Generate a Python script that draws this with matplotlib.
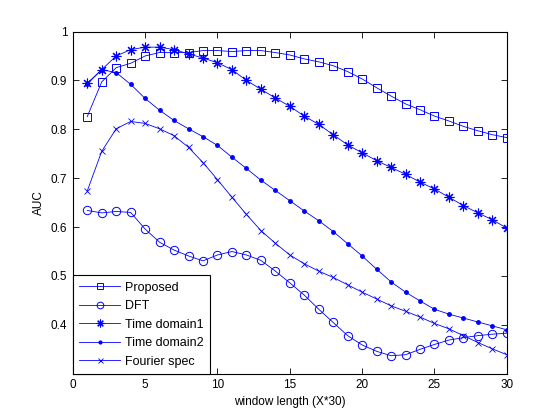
import matplotlib.pyplot as plt

x = list(range(1, 31))

proposed = [0.826, 0.897, 0.926, 0.935, 0.950, 0.957, 0.957, 0.957, 0.961, 0.961,
            0.959, 0.961, 0.961, 0.957, 0.952, 0.944, 0.938, 0.930, 0.918, 0.903,
            0.885, 0.868, 0.852, 0.840, 0.827, 0.817, 0.806, 0.797, 0.789, 0.783]
dft = [0.634, 0.629, 0.632, 0.630, 0.596, 0.569, 0.553, 0.541, 0.531, 0.543,
       0.550, 0.543, 0.532, 0.510, 0.486, 0.461, 0.432, 0.405, 0.378, 0.359,
       0.346, 0.337, 0.339, 0.350, 0.360, 0.369, 0.374, 0.378, 0.381, 0.383]
time1 = [0.894, 0.922, 0.950, 0.963, 0.968, 0.968, 0.963, 0.954, 0.946, 0.936,
         0.922, 0.900, 0.882, 0.864, 0.847, 0.827, 0.810, 0.789, 0.768, 0.752,
         0.736, 0.722, 0.708, 0.692, 0.678, 0.661, 0.644, 0.629, 0.615, 0.598]
time2 = [0.893, 0.922, 0.916, 0.892, 0.863, 0.839, 0.818, 0.801, 0.785, 0.767,
         0.743, 0.720, 0.696, 0.675, 0.654, 0.633, 0.613, 0.591, 0.566, 0.541,
         0.514, 0.488, 0.467, 0.449, 0.432, 0.422, 0.414, 0.406, 0.398, 0.390]
fourier = [0.674, 0.755, 0.801, 0.816, 0.812, 0.801, 0.787, 0.763, 0.732, 0.697,
           0.661, 0.626, 0.593, 0.567, 0.543, 0.525, 0.510, 0.497, 0.482, 0.467,
           0.453, 0.439, 0.428, 0.416, 0.403, 0.392, 0.378, 0.364, 0.351, 0.339]

plt.rcParams['font.family'] = ['Liberation Sans', 'DejaVu Sans']
plt.rcParams['font.size'] = 8.5

fig = plt.figure(figsize=(5.6, 4.2), dpi=100)
ax = fig.add_axes([0.13, 0.11, 0.775, 0.815])

c = 'blue'
asterisk = (8, 2, 0)  # matlab-style '*' (plus and cross)
ax.plot(x, proposed, color=c, lw=0.6, marker='s', ms=6, mfc='none', mec=c, mew=0.7, label='Proposed')
ax.plot(x, dft, color=c, lw=0.6, marker='o', ms=6, mfc='none', mec=c, mew=0.7, label='DFT')
ax.plot(x, time1, color=c, lw=0.6, marker=asterisk, ms=7, mec=c, mew=0.8, label='Time domain1')
ax.plot(x, time2, color=c, lw=0.6, marker='.', ms=5, mfc=c, mec=c, label='Time domain2')
ax.plot(x, fourier, color=c, lw=0.6, marker='x', ms=4.5, mec=c, mew=0.6, label='Fourier spec')

ax.set_xlim(0, 30)
ax.set_ylim(0.3, 1)
ax.set_xticks([0, 5, 10, 15, 20, 25, 30])
ax.set_yticks([0.4, 0.5, 0.6, 0.7, 0.8, 0.9, 1])
ax.set_yticklabels(['0.4', '0.5', '0.6', '0.7', '0.8', '0.9', '1'])
ax.tick_params(direction='in', top=True, right=True, length=4, width=0.6, pad=4)
for s in ax.spines.values():
    s.set_linewidth(0.8)

ax.set_xlabel('window length (X*30)', labelpad=3)
ax.set_ylabel('AUC')

leg = ax.legend(loc='lower left', handlelength=3.3, handletextpad=0.35, borderaxespad=0,
                fancybox=False, framealpha=1, edgecolor='black', borderpad=0.5,
                labelspacing=0.52, fontsize=9, markerscale=0.8)
leg.get_frame().set_linewidth(0.8)

plt.savefig('out.png')
